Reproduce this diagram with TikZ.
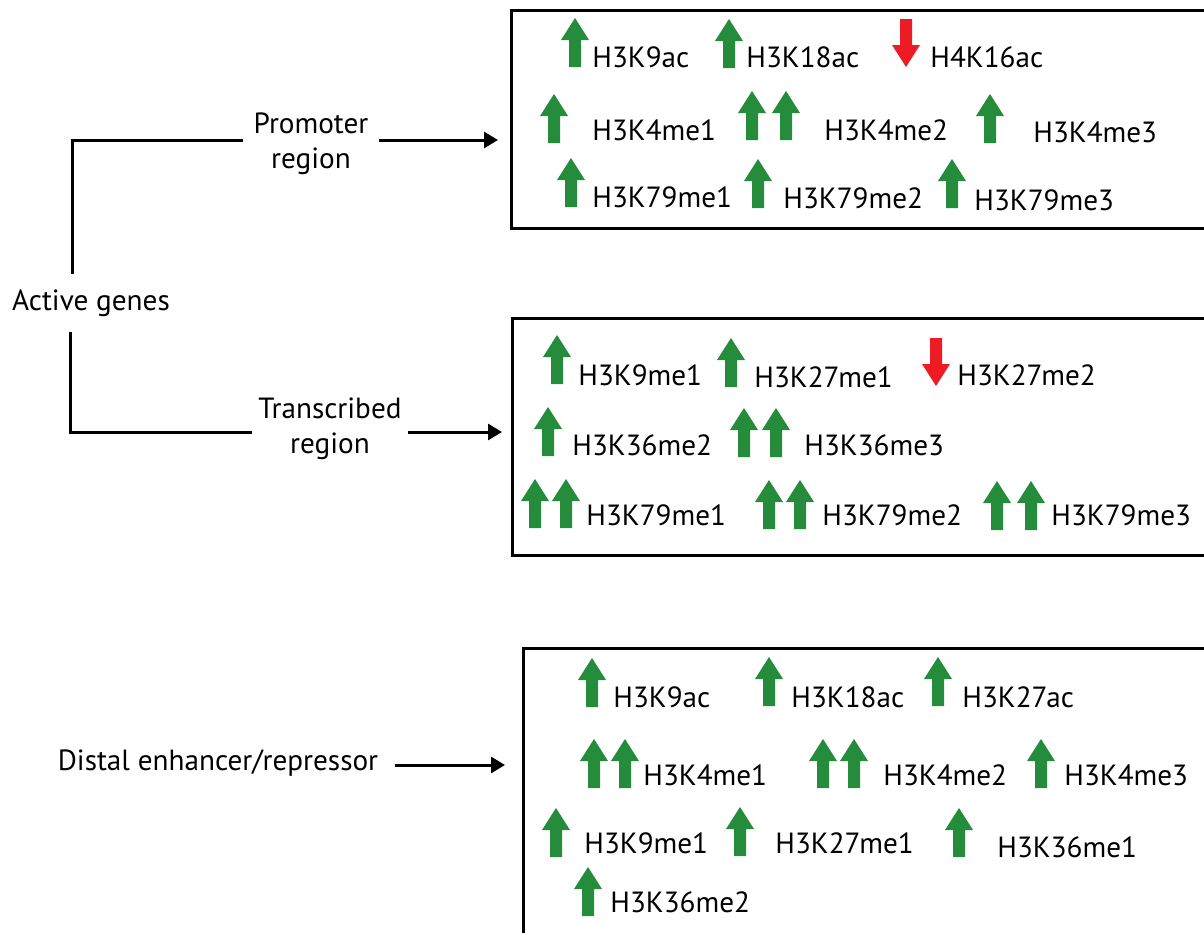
\documentclass[tikz,border=0pt]{standalone}
\usepackage{fontspec}
\setmainfont{PT Sans}
\usetikzlibrary{arrows.meta,calc}
\definecolor{hgreen}{RGB}{36,140,58}
\definecolor{hred}{RGB}{237,28,36}
\tikzset{
	mod/.style={anchor=west,inner sep=0pt},
	region/.style={align=center,inner ysep=0pt},
	link/.style={line width=1.5pt},
	tolink/.style={link,-{Triangle[length=7pt,width=8pt]}},
	panel/.style={line width=1.5pt},
	uparr/.pic={\fill[hgreen] (-6,0) -- (-6,-27) -- (-14,-27) -- (0,-49) -- (14,-27) -- (6,-27) -- (6,0) -- cycle;},
	downarr/.pic={\fill[hred] (-6,0) -- (6,0) -- (6,26) -- (14,26) -- (0,48) -- (-14,26) -- (-6,26) -- cycle;}
}
\begin{document}
\begin{tikzpicture}[x=0.5pt,y=-0.5pt,font=\fontsize{14.6}{17.5}\selectfont]
		\clip (0,0) rectangle (1204,932);
		
		% left side
		\node[inner xsep=0pt,inner ysep=7.5pt] (active) at (91,303) {Active genes};
		\node[region,inner xsep=5pt] (promoter) at (311,144) {Promoter\\region};
		\node[region,inner xsep=3pt] (transcribed) at (330,429) {Transcribed\\region};
		\node[inner xsep=8pt] (distal) at (218,763) {Distal enhancer/repressor};
		\coordinate (pin) at (498,140); \coordinate (tin) at (502,432); \coordinate (din) at (505,765);
		\draw[link] ($(active.north)+(-19,0)$) |- ([yshift=2pt]promoter.west);
		\draw[tolink] ([yshift=2pt]promoter.east) -- (pin);
		\draw[link] ($(active.south)+(-21,0)$) |- ([yshift=-1.5pt]transcribed.west);
		\draw[tolink] ([yshift=-1.5pt]transcribed.east) -- (tin);
		\draw[tolink] ([yshift=-1pt]distal.east) -- (din);
		
		% promoter region
		\draw[panel] (511,10) rectangle (1215,228);
		\pic at (575,67) {uparr}; \node[mod] (pK9ac) at (592,57) {H3K9ac};
		\pic at (729,68) {uparr}; \node[mod] (pK18ac) at (746,57) {H3K18ac};
		\pic at (906,19) {downarr}; \node[mod] (pK16ac) at (930,57) {H4K16ac};
		\pic at (554,143) {uparr}; \node[mod] (pK4me1) at (592,130) {H3K4me1};
		\pic at (752,140) {uparr}; \pic at (786,140) {uparr}; \node[mod] (pK4me2) at (824,130) {H3K4me2};
		\pic at (990,143) {uparr}; \node[mod] (pK4me3) at (1033,132) {H3K4me3};
		\pic at (571,207) {uparr}; \node[mod] (pK79me1) at (592,197) {H3K79me1};
		\pic at (758,208) {uparr}; \node[mod] (pK79me2) at (783,198) {H3K79me2};
		\pic at (952,208) {uparr}; \node[mod] (pK79me3) at (974,200) {H3K79me3};
		
		% transcribed region
		\draw[panel] (512,318) rectangle (1215,555);
		\pic at (557,384) {uparr}; \node[mod] (tK9me1) at (578,375) {H3K9me1};
		\pic at (731,387) {uparr}; \node[mod] (tK27me1) at (754,377) {H3K27me1};
		\pic at (936,338) {downarr}; \node[mod] (tK27me2) at (957,375) {H3K27me2};
		\pic at (548,456) {uparr}; \node[mod] (tK36me2) at (572,445) {H3K36me2};
		\pic at (744,457) {uparr}; \pic at (776,457) {uparr}; \node[mod] (tK36me3) at (804,445) {H3K36me3};
		\pic at (535,528) {uparr}; \pic at (566,528) {uparr}; \node[mod] (tK79me1) at (586,515) {H3K79me1};
		\pic at (769,529) {uparr}; \pic at (800,529) {uparr}; \node[mod] (tK79me2) at (822,515) {H3K79me2};
		\pic at (997,530) {uparr}; \pic at (1031,530) {uparr}; \node[mod] (tK79me3) at (1051,515) {H3K79me3};
		
		% distal enhancer/repressor
		\draw[panel] (523,648) rectangle (1215,945);
		\pic at (592,707) {uparr}; \node[mod] (dK9ac) at (613,697) {H3K9ac};
		\pic at (769,706) {uparr}; \node[mod] (dK18ac) at (791,697) {H3K18ac};
		\pic at (938,706) {uparr}; \node[mod] (dK27ac) at (962,697) {H3K27ac};
		\pic at (594,788) {uparr}; \pic at (625,788) {uparr}; \node[mod] (dK4me1) at (643,775) {H3K4me1};
		\pic at (823,788) {uparr}; \pic at (854,788) {uparr}; \node[mod] (dK4me2) at (883,775) {H3K4me2};
		\pic at (1041,788) {uparr}; \node[mod] (dK4me3) at (1064,775) {H3K4me3};
		\pic at (556,857) {uparr}; \node[mod] (dK9me1) at (584,843) {H3K9me1};
		\pic at (740,856) {uparr}; \node[mod] (dK27me1) at (775,843) {H3K27me1};
		\pic at (959,857) {uparr}; \node[mod] (dK36me1) at (997,847) {H3K36me1};
		\pic at (588,916) {uparr}; \node[mod] (dK36me2) at (610,902) {H3K36me2};
		\end{tikzpicture}
\end{document}
